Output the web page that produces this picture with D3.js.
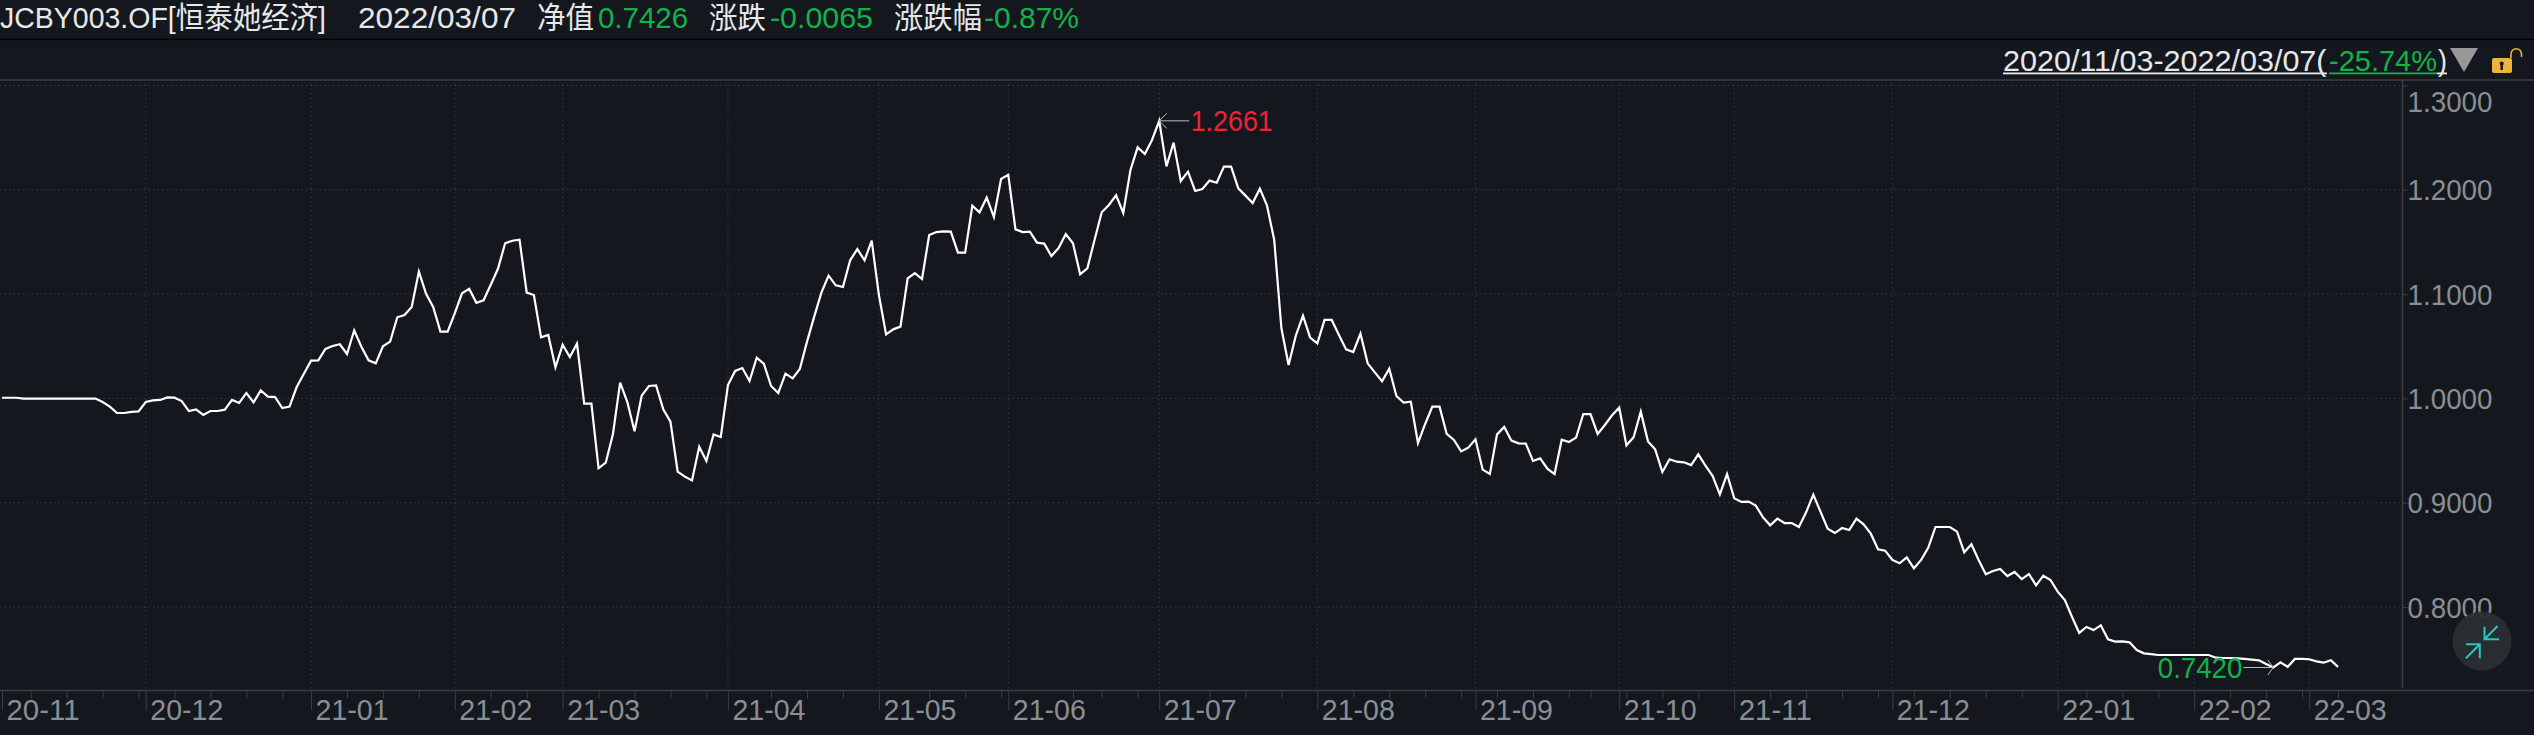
<!DOCTYPE html>
<html><head><meta charset="utf-8">
<script src="https://d3js.org/d3.v7.min.js"></script>
<style>
html,body{margin:0;padding:0;background:#14181e;overflow:hidden}
text{font-family:"Liberation Sans","Noto Sans CJK SC",sans-serif}
</style></head><body><svg id="c" width="2534" height="735"></svg>
<script>
// Net value per trading day, 2020/11/03 .. 2022/03/07
const navValues = [
1.0006,1.0006,1.0006,.9998,.9998,.9998,.9998,.9998,.9998,.9998,
.9998,.9998,.9998,.9998,.9965,.9921,.9860,.9860,.9870,.9876,
.9965,.9981,.9985,1.0010,1.0007,.9975,.9879,.9895,.9841,.9879,
.9879,.9892,.9985,.9956,1.0052,.9962,1.0077,1.0017,1.0013,.9908,
.9921,1.0109,1.0237,1.0362,1.0365,1.0474,1.0502,1.0519,1.0426,1.0653,
1.0496,1.0365,1.0336,1.0500,1.0544,1.0778,1.0800,1.0877,1.1216,1.1002,
1.0874,1.0640,1.0640,1.0817,1.1008,1.1050,1.0916,1.0941,1.1089,1.1243,
1.1487,1.1512,1.1522,1.1014,1.0991,1.0585,1.0608,1.0298,1.0515,1.0397,
1.0525,.9950,.9950,.9330,.9384,.9659,1.0151,.9965,.9684,1.0026,
1.0119,1.0125,.9895,.9777,.9298,.9250,.9214,.9537,.9400,.9655,
.9630,1.0128,1.0263,1.0291,1.0167,1.0391,1.0330,1.0119,1.0052,1.0237,
1.0192,1.0282,1.0544,1.0784,1.1014,1.1177,1.1084,1.1068,1.1324,1.1432,
1.1324,1.1512,1.0991,1.0614,1.0662,1.0688,1.1151,1.1202,1.1145,1.1567,
1.1595,1.1602,1.1599,1.1397,1.1397,1.1848,1.1784,1.1925,1.1739,1.2104,
1.2145,1.1621,1.1595,1.1599,1.1493,1.1484,1.1365,1.1442,1.1576,1.1487,
1.1190,1.1247,1.1519,1.1784,1.1854,1.1947,1.1778,1.2190,1.2407,1.2343,
1.2478,1.2661,1.2225,1.2452,1.2084,1.2174,1.1989,1.2008,1.2088,1.2068,
1.2222,1.2222,1.2014,1.1944,1.1873,1.2011,1.1848,1.1519,1.0672,1.0320,
1.0601,1.0793,1.0582,1.0528,1.0752,1.0752,1.0608,1.0470,1.0445,1.0621,
1.0336,1.0250,1.0164,1.0285,1.0023,.9959,.9969,.9572,.9755,.9921,
.9921,.9659,.9601,.9492,.9528,.9608,.9317,.9275,.9655,.9726,
.9595,.9569,.9566,.9400,.9425,.9326,.9275,.9604,.9582,.9624,
.9850,.9850,.9659,.9745,.9838,.9911,.9550,.9627,.9873,.9588,
.9512,.9294,.9416,.9393,.9387,.9361,.9464,.9355,.9256,.9080,
.9275,.9042,.9007,.9010,.8972,.8860,.8783,.8847,.8805,.8805,
.8767,.8908,.9077,.8914,.8751,.8709,.8757,.8738,.8847,.8793,
.8703,.8553,.8540,.8451,.8419,.8476,.8371,.8451,.8569,.8767,
.8767,.8767,.8722,.8524,.8601,.8451,.8313,.8345,.8364,.8297,
.8336,.8268,.8316,.8208,.8300,.8259,.8147,.8067,.7904,.7751,
.7808,.7779,.7824,.7690,.7668,.7671,.7661,.7588,.7556,.7549,
.7540,.7540,.7540,.7540,.7540,.7540,.7540,.7540,.7514,.7511,
.7511,.7508,.7502,.7495,.7489,.7453,.7420,.7469,.7426,.7502,
.7502,.7499,.7479,.7466,.7489,.7426];
const monthLabels = ["20-11","20-12","21-01","21-02","21-03","21-04","21-05","21-06","21-07","21-08","21-09","21-10","21-11","21-12","22-01","22-02","22-03"];
const monthStarts = [0,20,43,63,78,101,122,140,161,183,205,225,241,263,286,305,321];
const weekTicks = [4,9,14,19,24,29,34,39,48,53,58,68,73,83,88,93,98,107,112,117,129,134,139,149,153,158,168,173,178,188,193,198,203,208,213,218,221,226,231,236,246,251,256,261,266,271,276,281,290,295,300,310,315,320,325];
const yTicks = [1.3,1.2,1.1,1.0,0.9,0.8];
const peak = {index:161,label:"1.2661"};
const trough = {index:316,label:"0.7420"};
const headerParts = [
 ["JCBY003.OF[恒泰她经济]","#e6e8ea",0,326],["2022/03/07","#e6e8ea",358,158],["净值","#e6e8ea",537,57],
 ["0.7426","#12b24a",598,90],["涨跌","#e6e8ea",709,57],["-0.0065","#12b24a",770,103],
 ["涨跌幅","#e6e8ea",894,88],["-0.87%","#12b24a",984,95]];

const svg = d3.select("#c");
const GRID="#363a40", AX="#3a3d42", LBL="#8b8e93";
const x = d3.scaleLinear().domain([0,325]).range([2,2338]);
const y = d3.scaleLinear().domain([0.8,1.3]).range([607,85.5]);
const fmt = d3.format(".4f");

// frame lines
svg.append("line").attr("x1",0).attr("x2",2534).attr("y1",39.5).attr("y2",39.5).attr("stroke","#000").attr("stroke-width",1.5);
svg.append("line").attr("x1",0).attr("x2",2534).attr("y1",80).attr("y2",80).attr("stroke",AX).attr("stroke-width",1.5);

// grids
svg.append("g").selectAll("line").data(yTicks).join("line")
 .attr("x1",0).attr("x2",2402).attr("y1",d=>y(d)).attr("y2",d=>y(d))
 .attr("stroke",GRID).attr("stroke-width",1).attr("stroke-dasharray","1.5 3");
svg.append("g").selectAll("line").data(monthStarts.slice(1)).join("line")
 .attr("x1",d=>x(d)).attr("x2",d=>x(d)).attr("y1",84).attr("y2",690)
 .attr("stroke",GRID).attr("stroke-width",1).attr("stroke-dasharray","1.5 3");

// y axis
const yAxis = svg.append("g").attr("transform","translate(2402.5,0)")
 .call(d3.axisRight(y).tickValues(yTicks).tickFormat(fmt).tickSize(5).tickPadding(0));
yAxis.select(".domain").attr("d","M0,80V688").attr("stroke",AX).attr("stroke-width",1.5);
yAxis.selectAll(".tick line").attr("stroke",AX);
yAxis.selectAll("text").attr("fill",LBL).attr("font-size",29).attr("font-family",null)
 .attr("textLength",85).attr("lengthAdjust","spacingAndGlyphs")
 .attr("dy",(d)=>d===1.3?"0.88em":"0.35em");

// x axis
const base = 690.5;
svg.append("g").attr("transform",`translate(0,${base})`)
 .call(d3.axisBottom(x).tickValues(weekTicks).tickFormat("").tickSize(8))
 .call(g=>{g.select(".domain").remove();g.selectAll("line").attr("stroke",AX);});
const xAxis = svg.append("g").attr("transform",`translate(0,${base})`)
 .call(d3.axisBottom(x).tickValues(monthStarts).tickFormat((d,i)=>monthLabels[i]).tickSize(20));
xAxis.select(".domain").attr("d","M0,0H2534").attr("stroke",AX).attr("stroke-width",1.5);
xAxis.selectAll(".tick line").attr("stroke",AX);
xAxis.selectAll("text").attr("fill",LBL).attr("font-size",29).attr("font-family",null)
 .attr("text-anchor","start").attr("x",4).attr("y",9).attr("dy","0.71em")
 .attr("textLength",73).attr("lengthAdjust","spacingAndGlyphs");

// series
const line = d3.line().x((d,i)=>x(i)).y(d=>y(d));
svg.append("path").datum(navValues).attr("d",line).attr("fill","none").attr("stroke","#fff")
 .attr("stroke-width",2.2).attr("stroke-linejoin","miter");

// header
const txt=(s,c,x0,w,yy,fs)=>svg.append("text").text(s).attr("x",x0).attr("y",yy).attr("fill",c).attr("font-size",fs)
 .attr("textLength",w).attr("lengthAdjust","spacingAndGlyphs");
headerParts.forEach(p=>txt(p[0],p[1],p[2],p[3],28,30));

// range text
txt("2020/11/03-2022/03/07(","#e6e8ea",2003,323.5,70.5,30);
txt("-25.74%","#12b24a",2329,108,70.5,30);
txt(")","#e6e8ea",2438,9,70.5,30);
[[2003,2327,"#e6e8ea"],[2329,2437,"#12b24a"],[2437,2447,"#e6e8ea"]].forEach(u=>
 svg.append("rect").attr("x",u[0]).attr("width",u[1]-u[0]).attr("y",72.5).attr("height",1.8).attr("fill",u[2]));
svg.append("path").attr("d","M2450,48H2478L2464,72Z").attr("fill","#989898");
// lock
svg.append("rect").attr("x",2492).attr("y",58).attr("width",20).attr("height",15).attr("rx",2).attr("fill","#f0b33c");
svg.append("path").attr("d","M2511,58V54A5,5 0 0 1 2521.5,54V57").attr("fill","none").attr("stroke","#f0b33c").attr("stroke-width",1.6);
svg.append("rect").attr("x",2500.5).attr("y",63).attr("width",2.4).attr("height",7).attr("fill","#14181e");
svg.append("circle").attr("cx",2501.7).attr("cy",63.5).attr("r",2).attr("fill","#14181e");

// extremes
function callout(pt,color,side){
 const px=x(pt.index), py=y(navValues[pt.index]);
 const a=svg.append("g").attr("fill","none").attr("stroke","#b8bcc0").attr("stroke-width",1);
 if(side>0){
  a.append("path").attr("d",`M${px},${py}H${px+30}M${px},${py}L${px+7.5},${py-7.5}M${px},${py}L${px+7.5},${py+7.5}`);
  svg.append("text").text(pt.label).attr("x",px+31.5).attr("y",py+10.5).attr("fill",color).attr("font-size",30).attr("textLength",82).attr("lengthAdjust","spacingAndGlyphs");
 } else {
  a.append("path").attr("d",`M${px},${py}H${px-30}M${px},${py}L${px-5.5},${py-7.5}M${px},${py}L${px-5.5},${py+7.5}`);
  svg.append("text").text(pt.label).attr("x",px-115.5).attr("y",py+10.5).attr("fill",color).attr("font-size",30).attr("textLength",84.5).attr("lengthAdjust","spacingAndGlyphs");
 }
}
callout(peak,"#ee2233",1);
callout(trough,"#12b24a",-1);

// collapse button
svg.append("circle").attr("cx",2482).attr("cy",641).attr("r",29.5).attr("fill","#2b2e32").attr("fill-opacity",.93);
svg.append("path").attr("d","M2497.6,626L2484.5,639.3M2499,639.3H2484.5V626.7M2466,658.3L2479.8,644.3M2466,644.3H2479.8V658.3")
 .attr("fill","none").attr("stroke","#2ec4c6").attr("stroke-width",2);
</script></body></html>
